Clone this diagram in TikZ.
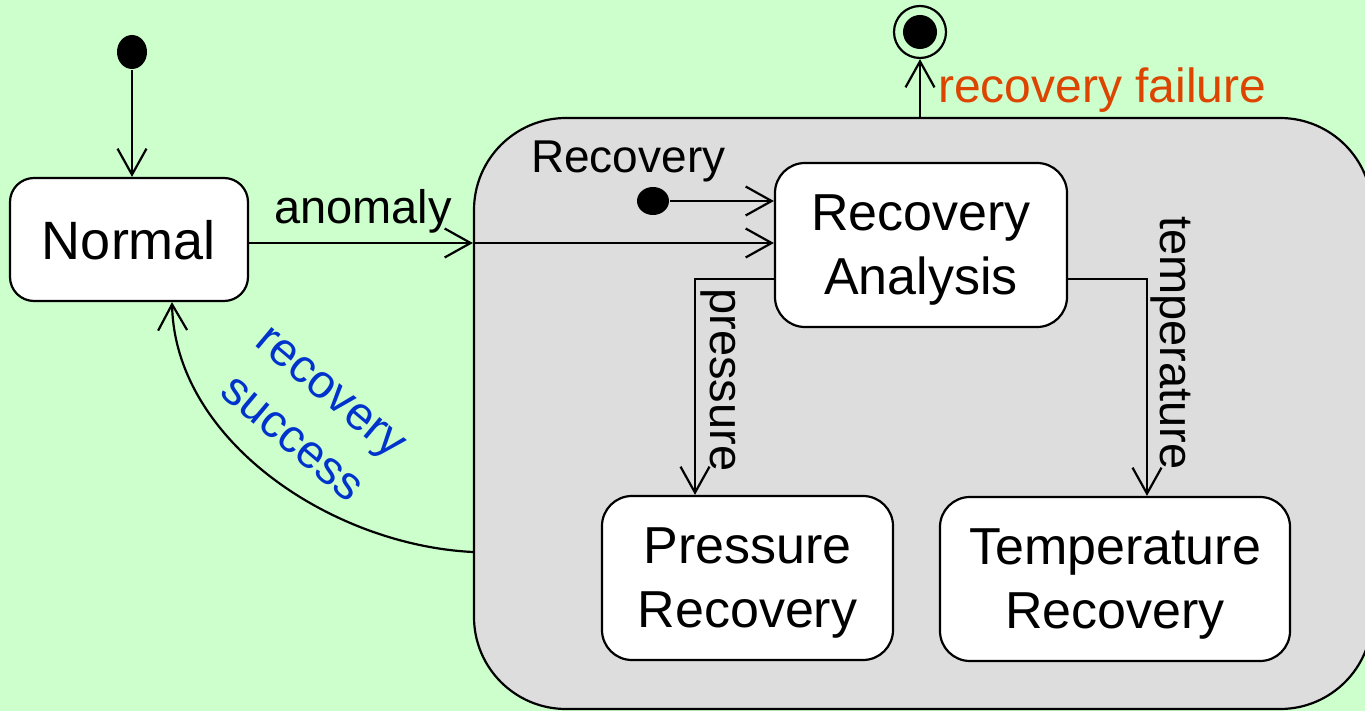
\documentclass[tikz,border=0pt]{standalone}
\usepackage{fontspec}
\setmainfont{Liberation Sans}
\usetikzlibrary{arrows.meta,shapes.geometric}
\definecolor{bggreen}{HTML}{CCFFCC}
\definecolor{compgray}{HTML}{DDDDDD}
\definecolor{failorange}{HTML}{DD4400}
\definecolor{succblue}{HTML}{0033CC}
\begin{document}
\begin{tikzpicture}[x=1pt,y=-1pt,line width=2.2pt,
  state/.style={draw,fill=white,rounded corners=#1,inner sep=0pt,align=center,
    text depth=0pt,font=\fontsize{52}{64}\selectfont},
  lbl/.style={inner sep=0pt,font=\fontsize{47}{56}\selectfont},
  arr/.style={-{Straight Barb[length=26pt,width=29pt]}},
  initdot/.style={fill=black,ellipse,inner sep=0pt}]
  % canvas
  \useasboundingbox (0,0) rectangle (1365,711);
  \clip (0,0) rectangle (1365,711);
  \fill[bggreen] (0,0) rectangle (1365,711);

  % composite state
  \node[draw,fill=compgray,rounded corners=92pt,inner sep=0pt,
        minimum width=898pt,minimum height=591pt] (comp) at (923,413.5) {};
  \node[lbl,font=\fontsize{46}{56}\selectfont,anchor=base west] (complbl) at (530,173) {Recovery};

  % states
  \node[state=24pt,minimum width=238pt,minimum height=123pt,
        font=\fontsize{54}{64}\selectfont] (normal) at (129,239.5) {Normal};
  \node[state=30pt,minimum width=292pt,minimum height=164pt] (ra) at (921,245) {Recovery\\Analysis};
  \node[state=30pt,minimum width=291pt,minimum height=164pt] (pr) at (747.5,578) {Pressure\\Recovery};
  \node[state=30pt,minimum width=350pt,minimum height=164pt] (tr) at (1115,579) {Temperature\\Recovery};

  % pseudostates
  \node[initdot,minimum width=30pt,minimum height=34pt] (init) at (132,52) {};
  \node[initdot,minimum width=32pt,minimum height=28pt] (init2) at (653,201) {};
  \node[circle,draw,fill=bggreen,minimum size=52pt,inner sep=0pt] (fin) at (920,32) {};
  \node[circle,fill=black,minimum size=34pt,inner sep=0pt] (fincore) at (fin.center) {};

  % helper coordinates for connector rows and columns
  \coordinate (ay) at (0,243);
  \coordinate (py) at (0,279);
  \coordinate (px) at (695,0);
  \coordinate (tx) at (1147,0);
  \coordinate (sy) at (0,552);
  \coordinate (sx) at (172,0);

  % transitions
  \draw[arr] (init) -- (init |- normal.north);
  \draw[arr] (normal.east |- ay) -- (comp.west |- ay);
  \draw[arr] (comp.west |- ay) -- (ra.west |- ay);
  \draw[arr] (init2) -- (ra.west |- init2);
  \draw[arr] (ra.west |- py) -| (pr.north -| px);
  \draw[arr] (ra.east |- py) -| (tr.north -| tx);
  \draw[arr] (comp.north -| fin) -- (fin.south);
  \draw[arr] (comp.west |- sy) .. controls +(-142,-7) and +(3,138) .. (normal.south -| sx);

  % transition labels
  \node[lbl,anchor=base] (anom) at (363,224) {anomaly};
  \node[lbl,rotate=-90] (plbl) at (718,380) {pressure};
  \node[lbl,rotate=-90] (tlbl) at (1171,343) {temperature};
  \node[lbl,text=failorange,anchor=base west,font=\fontsize{48}{56}\selectfont] (faillbl) at (937,103) {recovery failure};
  \node[lbl,text=succblue,rotate=-40,align=center,
        font=\fontsize{47}{61}\selectfont] (slbl) at (311,416) {recovery\\success};
\end{tikzpicture}
\end{document}
